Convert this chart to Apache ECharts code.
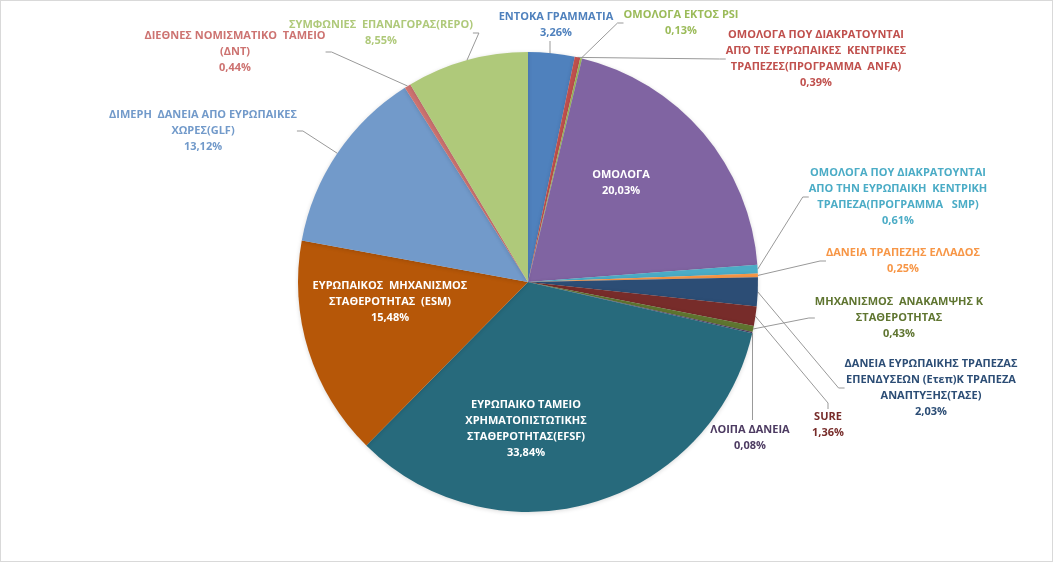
<!DOCTYPE html>
<html>
<head>
<meta charset="utf-8">
<script src="https://cdn.jsdelivr.net/npm/echarts@6/dist/echarts.min.js"></script>
<style>
    html, body { margin: 0; padding: 0; background: #fff; }
    #chart { width: 1051px; height: 560px; border: 1px solid #D9D9D9; }
</style>
</head>
<body>
<div id="chart"></div>
<script>
// categories (clockwise from 12 o'clock)
var names = [
    'ΕΝΤΟΚΑ ΓΡΑΜΜΑΤΙΑ',
    'ΟΜΟΛΟΓΑ ΠΟΥ ΔΙΑΚΡΑΤΟΥΝΤΑΙ\nΑΠΌ ΤΙΣ ΕΥΡΩΠΑΙΚΕΣ  ΚΕΝΤΡΙΚΕΣ\nΤΡΑΠΕΖΕΣ(ΠΡΟΓΡΑΜΜΑ  ANFA)',
    'ΟΜΟΛΟΓΑ ΕΚΤΟΣ PSI',
    'ΟΜΟΛΟΓΑ',
    'ΟΜΟΛΟΓΑ ΠΟΥ ΔΙΑΚΡΑΤΟΥΝΤΑΙ\nΑΠΟ ΤΗΝ ΕΥΡΩΠΑΙΚΗ  ΚΕΝΤΡΙΚΗ\nΤΡΑΠΕΖΑ(ΠΡΟΓΡΑΜΜΑ   SMP)',
    'ΔΑΝΕΙΑ ΤΡΑΠΕΖΗΣ ΕΛΛΑΔΟΣ',
    'ΔΑΝΕΙΑ ΕΥΡΩΠΑΙΚΗΣ ΤΡΑΠΕΖΑΣ\nΕΠΕΝΔΥΣΕΩΝ (Ετεπ)Κ ΤΡΑΠΕΖΑ\nΑΝΑΠΤΥΞΗΣ(ΤΑΣΕ)',
    'SURE',
    'ΜΗΧΑΝΙΣΜΟΣ  ΑΝΑΚΑΜΨΗΣ Κ\nΣΤΑΘΕΡΟΤΗΤΑΣ',
    'ΛΟΙΠΑ ΔΑΝΕΙΑ',
    'ΕΥΡΩΠΑΙΚΟ ΤΑΜΕΙΟ\nΧΡΗΜΑΤΟΠΙΣΤΩΤΙΚΗΣ\nΣΤΑΘΕΡΟΤΗΤΑΣ(EFSF)',
    'ΕΥΡΩΠΑΙΚΟΣ  ΜΗΧΑΝΙΣΜΟΣ\nΣΤΑΘΕΡΟΤΗΤΑΣ  (ESM)',
    'ΔΙΜΕΡΗ  ΔΑΝΕΙΑ ΑΠΟ ΕΥΡΩΠΑΙΚΕΣ\nΧΩΡΕΣ(GLF)',
    'ΔΙΕΘΝΕΣ ΝΟΜΙΣΜΑΤΙΚΟ  ΤΑΜΕΙΟ\n(ΔΝΤ)',
    'ΣΥΜΦΩΝΙΕΣ  ΕΠΑΝΑΓΟΡΑΣ(REPO)'
];
// shares in percent
var values = [3.26, 0.39, 0.13, 20.03, 0.61, 0.25, 2.03, 1.36, 0.43, 0.08, 33.84, 15.48, 13.12, 0.44, 8.55];

var colors = ['#4F81BD', '#C0504D', '#9BBB59', '#8064A2', '#4BACC6', '#F79646', '#2C4D75', '#772C2A',
    '#5F7530', '#4D3B62', '#276A7C', '#B65708', '#729ACA', '#CD7371', '#AFC97A'];
var labelColors = ['#4F81BD', '#C0504D', '#9BBB59', '#FFFFFF', '#4BACC6', '#F79646', '#2C4D75', '#772C2A',
    '#5F7530', '#4D3B62', '#FFFFFF', '#FFFFFF', '#729ACA', '#CD7371', '#AFC97A'];
var inside = [false, false, false, true, false, false, false, false, false, false, true, true, false, false, false];
// label block centres (px)
var labelPos = [[555, 24], [815, 58], [680, 22], [620, 182], [897, 196], [902, 260], [930, 387], [827, 424],
    [898, 317], [749, 437], [525, 428], [389, 301], [202, 130], [234, 51], [380, 32]];

var myChart = echarts.init(document.getElementById('chart'));

var dataList = values.map(function (v, i) {
    return {
        value: v,
        name: names[i],
        itemStyle: { color: colors[i] },
        label: { color: labelColors[i] },
        labelLine: { show: !inside[i] }
    };
});

var option = {
    animation: false,
    series: [{
        type: 'pie',
        silent: true,
        center: [527, 281],
        radius: [0, 230],
        startAngle: 90,
        clockwise: true,
        avoidLabelOverlap: false,
        minShowLabelAngle: 0,
        itemStyle: {
            borderWidth: 0,
            shadowBlur: 4,
            shadowColor: 'rgba(0,0,0,0.15)',
            shadowOffsetY: 1
        },
        label: {
            show: true,
            fontFamily: 'Open Sans',
            fontSize: 11,
            fontWeight: 'bold',
            lineHeight: 16,
            align: 'center',
            formatter: function (p) {
                return p.name + '\n' + p.value.toFixed(2).replace('.', ',') + '%';
            }
        },
        labelLine: {
            show: true,
            length: 10,
            length2: 6,
            minTurnAngle: 0,
            maxSurfaceAngle: 180,
            lineStyle: { color: '#999999', width: 1 }
        },
        labelLayout: function (params) {
            var i = params.dataIndex;
            var p = labelPos[i];
            var out = { x: p[0], y: p[1], align: 'center', verticalAlign: 'middle', hideOverlap: false };
            var r = params.rect;
            var h = params.labelRect.height;
            if (i === 9) {
                // short sliver just below 3 o'clock: drop the guide straight down to the label
                out.labelLinePoints = [[r.x + r.width, r.y + r.height], [r.x + r.width, p[1] - h / 2 - 2]];
            } else if (i === 0) {
                out.labelLinePoints = [[p[0] - 6, r.y + 2], [p[0] - 6, p[1] + h / 2]];
            }
            return out;
        },
        data: dataList
    }]
};
myChart.setOption(option);
</script>
</body>
</html>
